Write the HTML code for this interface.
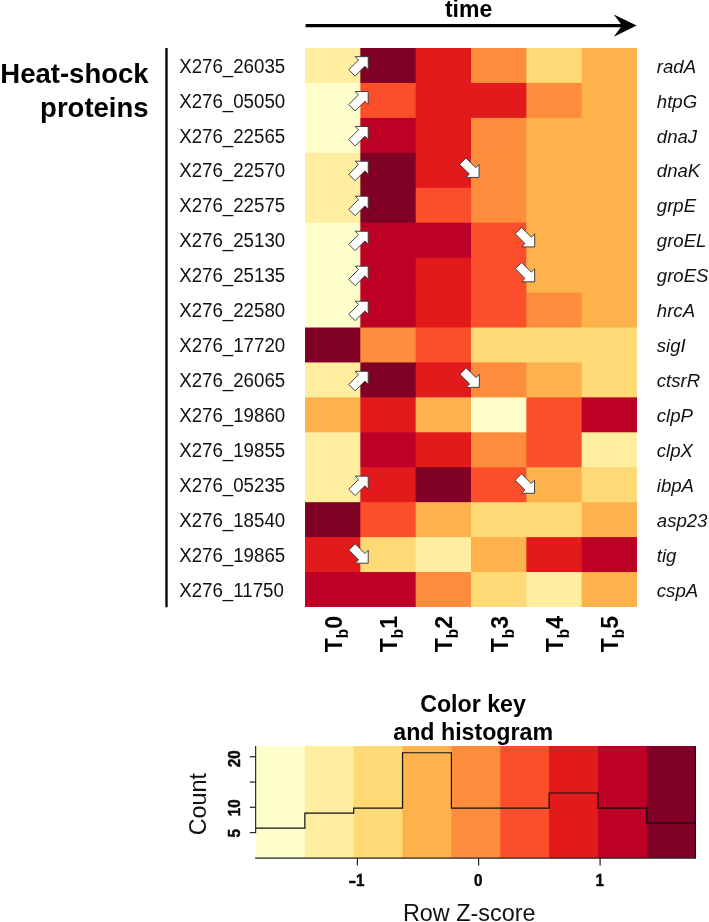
<!DOCTYPE html>
<html lang="en"><head><meta charset="utf-8"><title>Heat-shock proteins heatmap</title>
<style>
html,body{margin:0;padding:0;background:#fff;}
body{width:709px;height:922px;overflow:hidden;}
svg{display:block;font-family:"Liberation Sans",Arial,Helvetica,sans-serif;}
.b{font-weight:bold;}
.i{font-style:italic;}
</style></head><body>
<svg width="709" height="922" viewBox="0 0 709 922">
<rect width="709" height="922" fill="#fff"/>

<g>
<rect x="305.00" y="48.00" width="56.33" height="35.94" fill="#FFEDA0"/>
<rect x="360.33" y="48.00" width="56.33" height="35.94" fill="#800026"/>
<rect x="415.67" y="48.00" width="56.33" height="35.94" fill="#E31A1C"/>
<rect x="471.00" y="48.00" width="56.33" height="35.94" fill="#FD8D3C"/>
<rect x="526.33" y="48.00" width="56.33" height="35.94" fill="#FED976"/>
<rect x="581.67" y="48.00" width="55.33" height="35.94" fill="#FEB24C"/>
<rect x="305.00" y="82.94" width="56.33" height="35.94" fill="#FFFFCC"/>
<rect x="360.33" y="82.94" width="56.33" height="35.94" fill="#FC4E2A"/>
<rect x="415.67" y="82.94" width="56.33" height="35.94" fill="#E31A1C"/>
<rect x="471.00" y="82.94" width="56.33" height="35.94" fill="#E31A1C"/>
<rect x="526.33" y="82.94" width="56.33" height="35.94" fill="#FD8D3C"/>
<rect x="581.67" y="82.94" width="55.33" height="35.94" fill="#FEB24C"/>
<rect x="305.00" y="117.88" width="56.33" height="35.94" fill="#FFFFCC"/>
<rect x="360.33" y="117.88" width="56.33" height="35.94" fill="#BD0026"/>
<rect x="415.67" y="117.88" width="56.33" height="35.94" fill="#E31A1C"/>
<rect x="471.00" y="117.88" width="56.33" height="35.94" fill="#FD8D3C"/>
<rect x="526.33" y="117.88" width="56.33" height="35.94" fill="#FEB24C"/>
<rect x="581.67" y="117.88" width="55.33" height="35.94" fill="#FEB24C"/>
<rect x="305.00" y="152.81" width="56.33" height="35.94" fill="#FFEDA0"/>
<rect x="360.33" y="152.81" width="56.33" height="35.94" fill="#800026"/>
<rect x="415.67" y="152.81" width="56.33" height="35.94" fill="#E31A1C"/>
<rect x="471.00" y="152.81" width="56.33" height="35.94" fill="#FD8D3C"/>
<rect x="526.33" y="152.81" width="56.33" height="35.94" fill="#FEB24C"/>
<rect x="581.67" y="152.81" width="55.33" height="35.94" fill="#FEB24C"/>
<rect x="305.00" y="187.75" width="56.33" height="35.94" fill="#FFEDA0"/>
<rect x="360.33" y="187.75" width="56.33" height="35.94" fill="#800026"/>
<rect x="415.67" y="187.75" width="56.33" height="35.94" fill="#FC4E2A"/>
<rect x="471.00" y="187.75" width="56.33" height="35.94" fill="#FD8D3C"/>
<rect x="526.33" y="187.75" width="56.33" height="35.94" fill="#FEB24C"/>
<rect x="581.67" y="187.75" width="55.33" height="35.94" fill="#FEB24C"/>
<rect x="305.00" y="222.69" width="56.33" height="35.94" fill="#FFFFCC"/>
<rect x="360.33" y="222.69" width="56.33" height="35.94" fill="#BD0026"/>
<rect x="415.67" y="222.69" width="56.33" height="35.94" fill="#BD0026"/>
<rect x="471.00" y="222.69" width="56.33" height="35.94" fill="#FC4E2A"/>
<rect x="526.33" y="222.69" width="56.33" height="35.94" fill="#FEB24C"/>
<rect x="581.67" y="222.69" width="55.33" height="35.94" fill="#FEB24C"/>
<rect x="305.00" y="257.62" width="56.33" height="35.94" fill="#FFFFCC"/>
<rect x="360.33" y="257.62" width="56.33" height="35.94" fill="#BD0026"/>
<rect x="415.67" y="257.62" width="56.33" height="35.94" fill="#E31A1C"/>
<rect x="471.00" y="257.62" width="56.33" height="35.94" fill="#FC4E2A"/>
<rect x="526.33" y="257.62" width="56.33" height="35.94" fill="#FEB24C"/>
<rect x="581.67" y="257.62" width="55.33" height="35.94" fill="#FEB24C"/>
<rect x="305.00" y="292.56" width="56.33" height="35.94" fill="#FFFFCC"/>
<rect x="360.33" y="292.56" width="56.33" height="35.94" fill="#BD0026"/>
<rect x="415.67" y="292.56" width="56.33" height="35.94" fill="#E31A1C"/>
<rect x="471.00" y="292.56" width="56.33" height="35.94" fill="#FC4E2A"/>
<rect x="526.33" y="292.56" width="56.33" height="35.94" fill="#FD8D3C"/>
<rect x="581.67" y="292.56" width="55.33" height="35.94" fill="#FEB24C"/>
<rect x="305.00" y="327.50" width="56.33" height="35.94" fill="#800026"/>
<rect x="360.33" y="327.50" width="56.33" height="35.94" fill="#FD8D3C"/>
<rect x="415.67" y="327.50" width="56.33" height="35.94" fill="#FC4E2A"/>
<rect x="471.00" y="327.50" width="56.33" height="35.94" fill="#FED976"/>
<rect x="526.33" y="327.50" width="56.33" height="35.94" fill="#FED976"/>
<rect x="581.67" y="327.50" width="55.33" height="35.94" fill="#FED976"/>
<rect x="305.00" y="362.44" width="56.33" height="35.94" fill="#FFEDA0"/>
<rect x="360.33" y="362.44" width="56.33" height="35.94" fill="#800026"/>
<rect x="415.67" y="362.44" width="56.33" height="35.94" fill="#E31A1C"/>
<rect x="471.00" y="362.44" width="56.33" height="35.94" fill="#FD8D3C"/>
<rect x="526.33" y="362.44" width="56.33" height="35.94" fill="#FEB24C"/>
<rect x="581.67" y="362.44" width="55.33" height="35.94" fill="#FED976"/>
<rect x="305.00" y="397.38" width="56.33" height="35.94" fill="#FEB24C"/>
<rect x="360.33" y="397.38" width="56.33" height="35.94" fill="#E31A1C"/>
<rect x="415.67" y="397.38" width="56.33" height="35.94" fill="#FEB24C"/>
<rect x="471.00" y="397.38" width="56.33" height="35.94" fill="#FFFFCC"/>
<rect x="526.33" y="397.38" width="56.33" height="35.94" fill="#FC4E2A"/>
<rect x="581.67" y="397.38" width="55.33" height="35.94" fill="#BD0026"/>
<rect x="305.00" y="432.31" width="56.33" height="35.94" fill="#FFEDA0"/>
<rect x="360.33" y="432.31" width="56.33" height="35.94" fill="#BD0026"/>
<rect x="415.67" y="432.31" width="56.33" height="35.94" fill="#E31A1C"/>
<rect x="471.00" y="432.31" width="56.33" height="35.94" fill="#FD8D3C"/>
<rect x="526.33" y="432.31" width="56.33" height="35.94" fill="#FC4E2A"/>
<rect x="581.67" y="432.31" width="55.33" height="35.94" fill="#FFEDA0"/>
<rect x="305.00" y="467.25" width="56.33" height="35.94" fill="#FFEDA0"/>
<rect x="360.33" y="467.25" width="56.33" height="35.94" fill="#E31A1C"/>
<rect x="415.67" y="467.25" width="56.33" height="35.94" fill="#800026"/>
<rect x="471.00" y="467.25" width="56.33" height="35.94" fill="#FC4E2A"/>
<rect x="526.33" y="467.25" width="56.33" height="35.94" fill="#FEB24C"/>
<rect x="581.67" y="467.25" width="55.33" height="35.94" fill="#FED976"/>
<rect x="305.00" y="502.19" width="56.33" height="35.94" fill="#800026"/>
<rect x="360.33" y="502.19" width="56.33" height="35.94" fill="#FC4E2A"/>
<rect x="415.67" y="502.19" width="56.33" height="35.94" fill="#FEB24C"/>
<rect x="471.00" y="502.19" width="56.33" height="35.94" fill="#FED976"/>
<rect x="526.33" y="502.19" width="56.33" height="35.94" fill="#FED976"/>
<rect x="581.67" y="502.19" width="55.33" height="35.94" fill="#FEB24C"/>
<rect x="305.00" y="537.12" width="56.33" height="35.94" fill="#E31A1C"/>
<rect x="360.33" y="537.12" width="56.33" height="35.94" fill="#FED976"/>
<rect x="415.67" y="537.12" width="56.33" height="35.94" fill="#FFEDA0"/>
<rect x="471.00" y="537.12" width="56.33" height="35.94" fill="#FEB24C"/>
<rect x="526.33" y="537.12" width="56.33" height="35.94" fill="#E31A1C"/>
<rect x="581.67" y="537.12" width="55.33" height="35.94" fill="#BD0026"/>
<rect x="305.00" y="572.06" width="56.33" height="34.94" fill="#BD0026"/>
<rect x="360.33" y="572.06" width="56.33" height="34.94" fill="#BD0026"/>
<rect x="415.67" y="572.06" width="56.33" height="34.94" fill="#FD8D3C"/>
<rect x="471.00" y="572.06" width="56.33" height="34.94" fill="#FED976"/>
<rect x="526.33" y="572.06" width="56.33" height="34.94" fill="#FFEDA0"/>
<rect x="581.67" y="572.06" width="55.33" height="34.94" fill="#FEB24C"/>
</g>
<text x="468.6" y="16.7" text-anchor="middle" class="b" font-size="23">time</text>
<line x1="305.6" y1="25.7" x2="624" y2="25.7" stroke="#000" stroke-width="3.3"/>
<path d="M636.6 25.6 L613.8 14.4 L622 25.6 L613.8 36.8 Z" fill="#000"/>
<text x="148.6" y="83.4" text-anchor="end" class="b" font-size="27.5">Heat-shock</text>
<text x="148.6" y="116.6" text-anchor="end" class="b" font-size="27.5">proteins</text>
<line x1="166.5" y1="48" x2="166.5" y2="607.2" stroke="#000" stroke-width="2.3"/>
<text transform="translate(179.2 72.67) scale(1 1.04)" font-size="18.7" fill="#111">X276_26035</text>
<text x="656.8" y="72.67" font-size="18.6" class="i" fill="#111">radA</text>
<text transform="translate(179.2 107.61) scale(1 1.04)" font-size="18.7" fill="#111">X276_05050</text>
<text x="656.8" y="107.61" font-size="18.6" class="i" fill="#111">htpG</text>
<text transform="translate(179.2 142.54) scale(1 1.04)" font-size="18.7" fill="#111">X276_22565</text>
<text x="656.8" y="142.54" font-size="18.6" class="i" fill="#111">dnaJ</text>
<text transform="translate(179.2 177.48) scale(1 1.04)" font-size="18.7" fill="#111">X276_22570</text>
<text x="656.8" y="177.48" font-size="18.6" class="i" fill="#111">dnaK</text>
<text transform="translate(179.2 212.42) scale(1 1.04)" font-size="18.7" fill="#111">X276_22575</text>
<text x="656.8" y="212.42" font-size="18.6" class="i" fill="#111">grpE</text>
<text transform="translate(179.2 247.36) scale(1 1.04)" font-size="18.7" fill="#111">X276_25130</text>
<text x="656.8" y="247.36" font-size="18.6" class="i" fill="#111">groEL</text>
<text transform="translate(179.2 282.29) scale(1 1.04)" font-size="18.7" fill="#111">X276_25135</text>
<text x="656.8" y="282.29" font-size="18.6" class="i" fill="#111">groES</text>
<text transform="translate(179.2 317.23) scale(1 1.04)" font-size="18.7" fill="#111">X276_22580</text>
<text x="656.8" y="317.23" font-size="18.6" class="i" fill="#111">hrcA</text>
<text transform="translate(179.2 352.17) scale(1 1.04)" font-size="18.7" fill="#111">X276_17720</text>
<text x="656.8" y="352.17" font-size="18.6" class="i" fill="#111">sigI</text>
<text transform="translate(179.2 387.11) scale(1 1.04)" font-size="18.7" fill="#111">X276_26065</text>
<text x="656.8" y="387.11" font-size="18.6" class="i" fill="#111">ctsrR</text>
<text transform="translate(179.2 422.04) scale(1 1.04)" font-size="18.7" fill="#111">X276_19860</text>
<text x="656.8" y="422.04" font-size="18.6" class="i" fill="#111">clpP</text>
<text transform="translate(179.2 456.98) scale(1 1.04)" font-size="18.7" fill="#111">X276_19855</text>
<text x="656.8" y="456.98" font-size="18.6" class="i" fill="#111">clpX</text>
<text transform="translate(179.2 491.92) scale(1 1.04)" font-size="18.7" fill="#111">X276_05235</text>
<text x="656.8" y="491.92" font-size="18.6" class="i" fill="#111">ibpA</text>
<text transform="translate(179.2 526.86) scale(1 1.04)" font-size="18.7" fill="#111">X276_18540</text>
<text x="656.8" y="526.86" font-size="18.6" class="i" fill="#111">asp23</text>
<text transform="translate(179.2 561.79) scale(1 1.04)" font-size="18.7" fill="#111">X276_19865</text>
<text x="656.8" y="561.79" font-size="18.6" class="i" fill="#111">tig</text>
<text transform="translate(179.2 596.73) scale(1 1.04)" font-size="18.7" fill="#111">X276_11750</text>
<text x="656.8" y="596.73" font-size="18.6" class="i" fill="#111">cspA</text>
<defs><path id="ba" d="M-11.5 -4.5 L2.3 -4.5 L2.3 -9.2 L11.5 0 L2.3 9.2 L2.3 4.5 L-11.5 4.5 Z" fill="#fff" stroke="#3a3a3a" stroke-width="0.9" stroke-linejoin="miter"/></defs>
<use href="#ba" transform="translate(360.07 64.76) rotate(-45)"/>
<use href="#ba" transform="translate(360.07 99.69) rotate(-45)"/>
<use href="#ba" transform="translate(360.07 134.61) rotate(-45)"/>
<use href="#ba" transform="translate(360.07 169.34) rotate(-45)"/>
<use href="#ba" transform="translate(360.07 204.36) rotate(-45)"/>
<use href="#ba" transform="translate(360.07 239.39) rotate(-45)"/>
<use href="#ba" transform="translate(360.07 274.31) rotate(-45)"/>
<use href="#ba" transform="translate(360.07 309.34) rotate(-45)"/>
<use href="#ba" transform="translate(360.07 379.49) rotate(-45)"/>
<use href="#ba" transform="translate(360.07 484.26) rotate(-45)"/>
<use href="#ba" transform="translate(360.07 555.06) rotate(45)"/>
<use href="#ba" transform="translate(470.90 169.29) rotate(45)"/>
<use href="#ba" transform="translate(471.20 379.19) rotate(45)"/>
<use href="#ba" transform="translate(526.53 238.79) rotate(45)"/>
<use href="#ba" transform="translate(526.53 273.71) rotate(45)"/>
<use href="#ba" transform="translate(526.43 485.16) rotate(45)"/>
<text transform="translate(341.57 652.3) rotate(-90) scale(1 1.04)" class="b" font-size="23.1"><tspan>T</tspan><tspan font-size="15.3" dy="5.7">b</tspan><tspan dy="-5.7" dx="0">0</tspan></text>
<text transform="translate(396.90 652.3) rotate(-90) scale(1 1.04)" class="b" font-size="23.1"><tspan>T</tspan><tspan font-size="15.3" dy="5.7">b</tspan><tspan dy="-5.7" dx="0">1</tspan></text>
<text transform="translate(452.23 652.3) rotate(-90) scale(1 1.04)" class="b" font-size="23.1"><tspan>T</tspan><tspan font-size="15.3" dy="5.7">b</tspan><tspan dy="-5.7" dx="0">2</tspan></text>
<text transform="translate(507.57 652.3) rotate(-90) scale(1 1.04)" class="b" font-size="23.1"><tspan>T</tspan><tspan font-size="15.3" dy="5.7">b</tspan><tspan dy="-5.7" dx="0">3</tspan></text>
<text transform="translate(562.90 652.3) rotate(-90) scale(1 1.04)" class="b" font-size="23.1"><tspan>T</tspan><tspan font-size="15.3" dy="5.7">b</tspan><tspan dy="-5.7" dx="0">4</tspan></text>
<text transform="translate(618.23 652.3) rotate(-90) scale(1 1.04)" class="b" font-size="23.1"><tspan>T</tspan><tspan font-size="15.3" dy="5.7">b</tspan><tspan dy="-5.7" dx="0">5</tspan></text>
<g>
<rect x="256.00" y="746.0" width="49.85" height="112.0" fill="#FFFFCC"/>
<rect x="304.85" y="746.0" width="49.85" height="112.0" fill="#FFEDA0"/>
<rect x="353.70" y="746.0" width="49.85" height="112.0" fill="#FED976"/>
<rect x="402.55" y="746.0" width="49.85" height="112.0" fill="#FEB24C"/>
<rect x="451.40" y="746.0" width="49.85" height="112.0" fill="#FD8D3C"/>
<rect x="500.25" y="746.0" width="49.85" height="112.0" fill="#FC4E2A"/>
<rect x="549.10" y="746.0" width="49.85" height="112.0" fill="#E31A1C"/>
<rect x="597.95" y="746.0" width="49.85" height="112.0" fill="#BD0026"/>
<rect x="646.80" y="746.0" width="48.85" height="112.0" fill="#800026"/>
</g>
<text x="473" y="711.8" text-anchor="middle" class="b" font-size="23.2">Color key</text>
<text x="473.2" y="739.6" text-anchor="middle" class="b" font-size="23.2">and histogram</text>
<path d="M256.00 828.22 H304.85 V813.13 H353.70 V808.10 H402.55 V752.77 H451.40 V808.10 H500.25 V808.10 H549.10 V793.01 H597.95 V808.10 H646.80 V823.19 H695.65" fill="none" stroke="#111" stroke-width="1.2"/>
<line x1="695.35" y1="746.0" x2="695.35" y2="858.6" stroke="#200008" stroke-width="1.1"/>
<line x1="255.65" y1="745.9" x2="255.65" y2="832.9" stroke="#222" stroke-width="1.15"/>
<line x1="249.8" y1="832.58" x2="256" y2="832.58" stroke="#222" stroke-width="1.2"/>
<line x1="249.8" y1="807.30" x2="256" y2="807.30" stroke="#222" stroke-width="1.2"/>
<line x1="249.8" y1="782.03" x2="256" y2="782.03" stroke="#222" stroke-width="1.2"/>
<line x1="249.8" y1="756.75" x2="256" y2="756.75" stroke="#222" stroke-width="1.2"/>
<line x1="255.1" y1="858.15" x2="696.1" y2="858.15" stroke="#222" stroke-width="1.15"/>
<line x1="357.4" y1="858" x2="357.4" y2="865.4" stroke="#222" stroke-width="1.2"/>
<text transform="translate(348.6 885.6) scale(1 1.05)" class="b" font-size="15.2" fill="#0a0a0a" stroke="#0a0a0a" stroke-width="0.45"><tspan textLength="7.6" lengthAdjust="spacingAndGlyphs">-</tspan><tspan dx="-0.2">1</tspan></text>
<line x1="478.6" y1="858" x2="478.6" y2="865.4" stroke="#222" stroke-width="1.2"/>
<text transform="translate(478.30 885.6) scale(1 1.05)" text-anchor="middle" class="b" font-size="15.2" fill="#0a0a0a" stroke="#0a0a0a" stroke-width="0.45">0</text>
<line x1="600.1" y1="858" x2="600.1" y2="865.4" stroke="#222" stroke-width="1.2"/>
<text transform="translate(599.80 885.6) scale(1 1.05)" text-anchor="middle" class="b" font-size="15.2" fill="#0a0a0a" stroke="#0a0a0a" stroke-width="0.45">1</text>
<text transform="translate(239.5 758.7) rotate(-90) scale(1 1.05)" text-anchor="middle" class="b" font-size="15.2" fill="#0a0a0a" stroke="#0a0a0a" stroke-width="0.45">20</text>
<text transform="translate(239.5 807.7) rotate(-90) scale(1 1.05)" text-anchor="middle" class="b" font-size="15.2" fill="#0a0a0a" stroke="#0a0a0a" stroke-width="0.45">10</text>
<text transform="translate(239.5 833.4) rotate(-90) scale(1 1.05)" text-anchor="middle" class="b" font-size="15.2" fill="#0a0a0a" stroke="#0a0a0a" stroke-width="0.45">5</text>
<text x="469.2" y="920.6" text-anchor="middle" font-size="23.4" fill="#111">Row Z-score</text>
<text transform="translate(206.4 804.1) rotate(-90)" text-anchor="middle" font-size="23.4" fill="#111">Count</text>
</svg></body></html>
